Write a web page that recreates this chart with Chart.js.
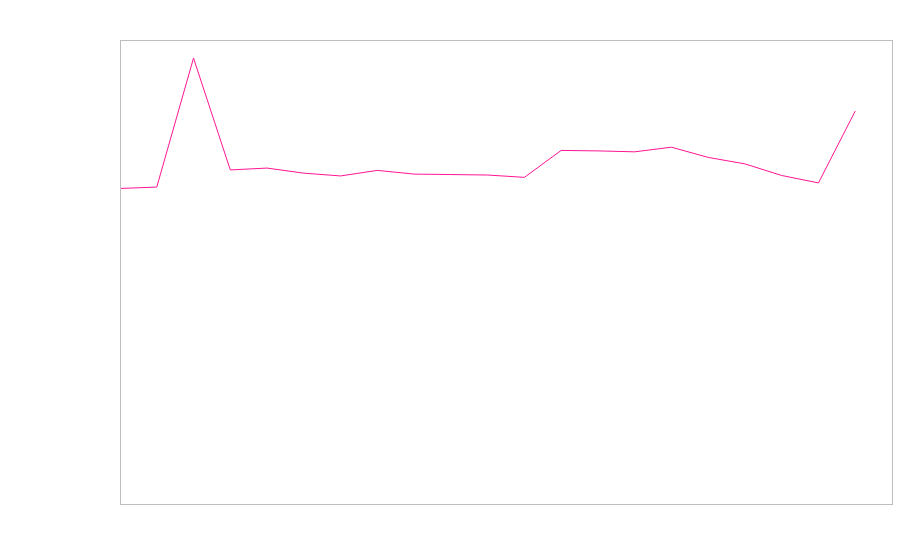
<!DOCTYPE html>
<html>
<head>
<meta charset="utf-8">
<script src="https://cdn.jsdelivr.net/npm/chart.js@4"></script>
<style>
  html, body { margin: 0; padding: 0; background: #fff; }
  #wrap { width: 900px; height: 560px; }
</style>
</head>
<body>
<div id="wrap"><canvas id="chartLine"></canvas></div>
<script>
'use strict'

// Categories (no labels shown in the picture) and the single series
var categories = ['1', '2', '3', '4', '5', '6', '7', '8', '9', '10', '11',
                  '12', '13', '14', '15', '16', '17', '18', '19', '20', '21', '22'];
var seriesValues = [68.0, 68.3, 96.1, 72.0, 72.4, 71.3, 70.7, 71.9, 71.1, 71.0, 70.9,
                    70.4, 76.2, 76.1, 75.9, 76.9, 74.7, 73.3, 70.8, 69.2, 84.7, null];
var yMin = 0;
var yMax = 100;

// Frame round the plot area
var frameBox = {
    id: 'frameBox',
    afterDraw: function(chart) {
        var a = chart.chartArea;
        var ctx = chart.ctx;
        ctx.save();
        ctx.strokeStyle = '#bdbdbd';
        ctx.lineWidth = 1;
        ctx.strokeRect(a.left + 0.5, a.top + 0.5, a.right - a.left, a.bottom - a.top);
        ctx.restore();
    }
};

var ctxline = document.getElementById('chartLine');
var myLineChart = new Chart(ctxline, {
    type: 'line',
    data: {
        labels: categories,
        datasets: [{
            data: seriesValues,
            borderColor: '#ff1493',
            borderWidth: 1,
            pointRadius: 0,
            tension: 0,
            fill: false
        }]
    },
    options: {
        maintainAspectRatio: false,
        responsive: true,
        animation: false,
        layout: {
            padding: { left: 120, top: 40, right: 8, bottom: 56 }
        },
        plugins: {
            legend: { display: false },
            tooltip: { enabled: false }
        },
        scales: {
            x: { display: false },
            y: { display: false, min: yMin, max: yMax }
        }
    },
    plugins: [frameBox]
});
</script>
</body>
</html>
